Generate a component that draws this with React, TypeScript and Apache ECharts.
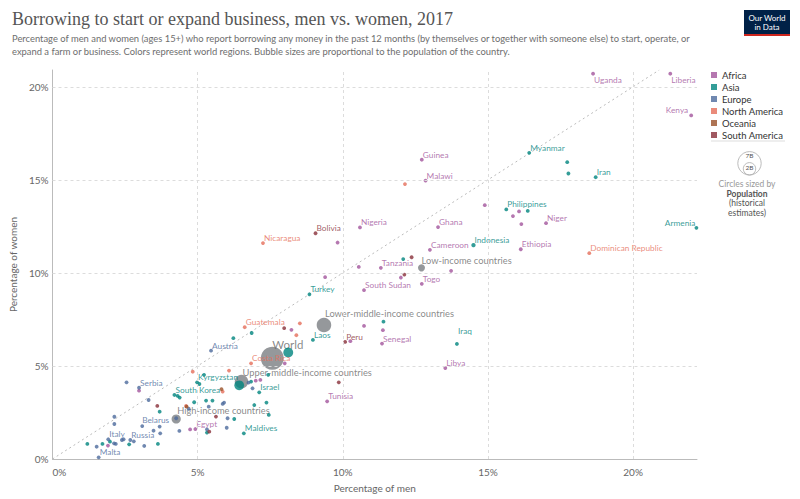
import { useEffect, useRef } from 'react';
import * as echarts from 'echarts';

// [name, % of men, % of women, population in millions]; empty name = no label
type Pt = [string, number, number, number];

const africa: Pt[] = [
  ['Uganda', 18.62, 20.7, 41],
  ['Liberia', 21.28, 20.7, 4.7],
  ['Kenya', 22.0, 18.46, 50],
  ['Guinea', 12.72, 16.08, 12],
  ['Malawi', 12.85, 14.96, 18],
  ['Nigeria', 10.59, 12.44, 190],
  ['Ghana', 13.28, 12.46, 29],
  ['Cameroon', 13.0, 11.24, 24],
  ['Tanzania', 11.31, 10.27, 56],
  ['Togo', 12.72, 9.41, 7.8],
  ['South Sudan', 10.73, 9.07, 12],
  ['Niger', 17.0, 12.67, 21],
  ['Ethiopia', 16.13, 11.27, 105],
  ['Senegal', 11.35, 6.2, 15],
  ['Libya', 13.53, 4.89, 6.4],
  ['Tunisia', 9.46, 3.1, 11.5],
  ['Egypt', 4.92, 1.61, 97],
  ['', 14.89, 13.64, 25],
  ['', 15.86, 13.05, 20],
  ['', 16.07, 13.3, 20],
  ['', 16.15, 12.62, 20],
  ['', 9.82, 11.63, 20],
  ['', 10.55, 10.32, 20],
  ['', 12.0, 9.75, 20],
  ['', 13.73, 10.11, 20],
  ['', 9.39, 9.77, 20],
  ['', 10.73, 7.15, 20],
  ['', 11.38, 6.92, 20],
  ['', 8.23, 6.94, 20],
  ['', 10.26, 6.33, 20],
  ['', 2.98, 3.67, 10],
  ['', 1.91, 0.72, 10],
  ['', 7.0, 4.21, 20],
  ['', 7.16, 4.25, 20],
  ['', 8.0, 5.14, 20],
  ['', 4.74, 1.59, 20],
];

const asia: Pt[] = [
  ['Myanmar', 16.42, 16.45, 53],
  ['Iran', 18.71, 15.14, 81],
  ['Armenia', 22.18, 12.42, 3],
  ['Philippines', 15.63, 13.41, 105],
  ['Indonesia', 14.5, 11.49, 264],
  ['Turkey', 8.85, 8.85, 81],
  ['Laos', 8.97, 6.4, 7],
  ['Iraq', 13.93, 6.18, 38],
  ['Kyrgyzstan', 4.98, 4.12, 6],
  ['', 5.06, 4.03, 10],
  ['', 8.12, 5.72, 1390],
  ['', 6.43, 3.96, 1340],
  ['South Korea', 4.2, 3.44, 51],
  ['', 4.31, 3.39, 10],
  ['', 4.38, 3.3, 10],
  ['Israel', 7.12, 3.58, 8.7],
  ['Maldives', 6.59, 1.38, 0.5],
  ['', 6.26, 2.15, 200],
  ['', 1.98, 0.93, 127],
  ['', 17.73, 15.95, 30],
  ['', 17.77, 15.34, 30],
  ['', 16.37, 13.33, 30],
  ['', 12.08, 10.74, 30],
  ['', 11.4, 7.38, 30],
  ['', 6.23, 6.49, 30],
  ['', 6.86, 6.77, 30],
  ['', 5.22, 4.52, 10],
  ['', 4.88, 3.05, 10],
  ['', 5.29, 3.14, 10],
  ['', 5.51, 3.14, 10],
  ['', 6.95, 2.9, 10],
  ['', 7.37, 3.03, 10],
  ['', 7.45, 2.37, 10],
  ['', 6.84, 4.16, 10],
  ['', 7.43, 4.52, 10],
  ['', 3.69, 2.54, 10],
  ['', 5.32, 1.42, 10],
  ['', 1.2, 0.81, 10],
  ['', 1.72, 0.81, 10],
  ['', 2.64, 0.79, 10],
  ['', 3.63, 0.81, 10],
];

const europe: Pt[] = [
  ['Austria', 5.46, 5.82, 8.8],
  ['Serbia', 2.98, 3.83, 7],
  ['Belarus', 4.26, 2.19, 9.5],
  ['Italy', 1.92, 1.06, 60],
  ['Russia', 2.68, 1.02, 145],
  ['Malta', 1.59, 0.09, 0.5],
  ['', 2.55, 4.12, 10],
  ['', 3.31, 3.17, 10],
  ['', 2.13, 2.27, 10],
  ['', 2.13, 1.88, 10],
  ['', 3.09, 1.77, 10],
  ['', 3.48, 1.52, 10],
  ['', 3.69, 1.74, 10],
  ['', 3.71, 1.38, 10],
  ['', 4.37, 1.51, 10],
  ['', 5.32, 1.59, 10],
  ['', 6.0, 1.68, 10],
  ['', 6.03, 2.19, 10],
  ['', 5.38, 2.81, 10],
  ['', 5.86, 2.96, 10],
  ['', 5.91, 3.03, 10],
  ['', 4.69, 2.7, 10],
  ['', 6.75, 4.1, 10],
  ['', 6.89, 3.8, 10],
  ['', 1.52, 0.66, 10],
  ['', 2.12, 0.84, 10],
  ['', 2.18, 0.81, 10],
  ['', 2.39, 1.02, 10],
  ['', 2.45, 1.06, 10],
  ['', 2.8, 0.95, 10],
  ['', 3.16, 0.7, 10],
];

const northAmerica: Pt[] = [
  ['Nicaragua', 7.25, 11.6, 6.4],
  ['Guatemala', 6.62, 7.08, 17],
  ['Costa Rica', 6.84, 5.14, 5],
  ['Dominican Republic', 18.49, 11.06, 10.6],
  ['', 12.14, 14.77, 10],
  ['', 8.52, 7.29, 10],
  ['', 8.4, 6.65, 10],
  ['', 4.83, 4.69, 10],
  ['', 6.08, 4.75, 10],
  ['', 5.86, 3.62, 10],
  ['', 4.6, 2.85, 10],
];

const oceania: Pt[] = [
  ['', 5.82, 3.75, 10],
  ['', 4.62, 2.81, 10],
];

const southAmerica: Pt[] = [
  ['Bolivia', 9.06, 12.13, 11],
  ['Peru', 10.08, 6.29, 32],
  ['', 7.98, 7.03, 10],
  ['', 12.12, 9.91, 10],
  ['', 12.37, 10.84, 10],
  ['', 9.86, 4.12, 10],
  ['', 5.63, 2.28, 10],
  ['', 3.61, 2.85, 10],
  ['', 5.4, 1.47, 10],
];

const incomeGroups: Pt[] = [
  ['High-income countries', 4.26, 2.15, 1200],
  ['Low-income countries', 12.71, 10.27, 700],
  ['Lower-middle-income countries', 9.35, 7.2, 3000],
  ['Upper-middle-income countries', 6.51, 4.16, 2600],
  ['World', 7.57, 5.41, 7500],
];

const regionNames = ['Africa', 'Asia', 'Europe', 'North America', 'Oceania', 'South America'];
const regionData = [africa, asia, europe, northAmerica, oceania, southAmerica];
const regionColors = ['#a2559c', '#00847e', '#4c6a9c', '#e56e5a', '#9a5129', '#883039'];
const gridTicks = [5, 10, 15, 20];
const diagonal = [[0, 0], [20.9, 20.9]];

// label placement: [align, dx, dy] from the bubble centre
const labelPlacement: Record<string, [string, number, number]> = {
  Uganda: ['left', 1, 6],
  Liberia: ['left', 1, 6],
  Kenya: ['right', -3, -5],
  Armenia: ['right', -1, -5],
  Belarus: ['right', -7, 2],
  Iraq: ['left', 1, -13],
  World: ['left', 0, -14],
  'Upper-middle-income countries': ['left', 1, -9],
  'Lower-middle-income countries': ['left', 1, -11],
  'Low-income countries': ['left', 0, -7],
  'High-income countries': ['left', 1, -8],
};

const FONT = 'Lato, "Noto Sans", sans-serif';

const bubble = (pop: number) => Math.max(3.8, 23 * Math.sqrt(pop / 7500));

const toItem = (p: Pt) => {
  const [name, x, y, pop] = p;
  const place = labelPlacement[name] || ['left', 1, -5];
  return {
    name,
    value: [x, y],
    symbolSize: bubble(pop),
    label: {
      show: name !== '',
      align: place[0],
      offset: [place[1], place[2]],
      fontSize: name === 'World' ? 11.5 : undefined,
    },
  };
};

export default function App() {
  const chartRef = useRef<HTMLDivElement>(null);

  useEffect(() => {
    document.body.style.margin = '0';
    if (!chartRef.current) return;
    const chart = echarts.init(chartRef.current, null, { renderer: 'svg' });

    const labelBase = {
      show: true,
      position: ['50%', '50%'],
      verticalAlign: 'middle',
      formatter: '{b}',
      fontFamily: FONT,
      fontSize: 8.3,
    };

    const series: any[] = [
      {
        name: 'diagonal',
        type: 'line',
        data: diagonal,
        symbol: 'none',
        silent: true,
        z: 1,
        lineStyle: { color: '#bbb', width: 1, type: [2, 3] },
        markLine: {
          silent: true,
          symbol: ['none', 'none'],
          label: { show: false },
          lineStyle: { color: '#dcdcdc', width: 1, type: [3, 3] },
          data: [
            ...gridTicks.map((v) => ({ xAxis: v })),
            ...gridTicks.map((v) => ({ yAxis: v })),
          ],
        },
      },
      {
        name: 'Income groups',
        type: 'scatter',
        z: 2,
        data: incomeGroups.map(toItem),
        itemStyle: { color: '#7b7e82' },
        label: { ...labelBase, color: '#6b6b6b', fontSize: 9.3 },
      },
      ...regionNames.map((r, i) => ({
        name: r,
        type: 'scatter',
        z: 3,
        data: regionData[i].map(toItem),
        itemStyle: { color: regionColors[i] },
        label: { ...labelBase, color: regionColors[i] },
      })),
    ];

    const sub = { fill: '#6e6e6e', fontSize: 9.4, fontFamily: FONT };
    const small = { fill: '#555', fontSize: 8.5, fontFamily: FONT, align: 'center' };

    chart.setOption({
      animation: false,
      backgroundColor: '#fff',
      grid: { left: 49, right: 103, top: 70, bottom: 40 },
      xAxis: {
        type: 'value',
        min: 0,
        max: 22.2,
        interval: 5,
        name: 'Percentage of men',
        nameLocation: 'middle',
        nameGap: 24,
        nameTextStyle: { color: '#666', fontSize: 10, fontFamily: FONT },
        axisLine: { show: true, lineStyle: { color: '#bbb' } },
        axisTick: { show: false },
        splitLine: { show: false },
        axisLabel: {
          color: '#666',
          fontSize: 10,
          fontFamily: FONT,
          margin: 8,
          alignMinLabel: 'left',
          formatter: (v: number) => (v % 5 === 0 ? v + '%' : ''),
        },
      },
      yAxis: {
        type: 'value',
        min: 0,
        max: 20.9,
        interval: 5,
        name: 'Percentage of women',
        nameLocation: 'middle',
        nameGap: 31,
        nameTextStyle: { color: '#666', fontSize: 10, fontFamily: FONT },
        axisLine: { show: true, lineStyle: { color: '#bbb' } },
        axisTick: { show: false },
        splitLine: { show: false },
        axisLabel: {
          color: '#666',
          fontSize: 10,
          fontFamily: FONT,
          margin: 4,
          formatter: (v: number) => (v % 5 === 0 ? v + '%' : ''),
        },
      },
      legend: {
        data: regionNames,
        orient: 'vertical',
        left: 711,
        top: 69,
        icon: 'rect',
        itemWidth: 6,
        itemHeight: 6,
        itemGap: 0,
        padding: 0,
        selectedMode: false,
        textStyle: { color: '#333', fontSize: 9.5, fontFamily: FONT, lineHeight: 12 },
      },
      graphic: [
        {
          type: 'text',
          left: 12,
          top: 10,
          style: {
            text: 'Borrowing to start or expand business, men vs. women, 2017',
            fill: '#555',
            fontSize: 18,
            fontFamily: '"Liberation Serif", "DejaVu Serif", serif',
          },
        },
        {
          type: 'text',
          left: 12,
          top: 34,
          style: {
            ...sub,
            text: 'Percentage of men and women (ages 15+) who report borrowing any money in the past 12 months (by themselves or together with someone else) to start, operate, or',
          },
        },
        {
          type: 'text',
          left: 12,
          top: 47,
          style: {
            ...sub,
            text: 'expand a farm or business. Colors represent world regions. Bubble sizes are proportional to the population of the country.',
          },
        },
        {
          type: 'group',
          left: 744,
          top: 10,
          children: [
            { type: 'rect', shape: { x: 0, y: 0, width: 46, height: 26 }, style: { fill: '#002147' } },
            { type: 'rect', shape: { x: 0, y: 24, width: 46, height: 2 }, style: { fill: '#ce261e' } },
            {
              type: 'text',
              x: 23,
              y: 4,
              style: { text: 'Our World', fill: '#fff', fontSize: 8, fontFamily: FONT, align: 'center' },
            },
            {
              type: 'text',
              x: 23,
              y: 13,
              style: { text: 'in Data', fill: '#fff', fontSize: 8, fontFamily: FONT, align: 'center' },
            },
          ],
        },
        { type: 'line', shape: { x1: 711, y1: 141, x2: 785, y2: 141 }, style: { stroke: '#ddd', lineWidth: 1 } },
        { type: 'circle', shape: { cx: 749.5, cy: 163.3, r: 11.7 }, style: { fill: 'none', stroke: '#aaa', lineWidth: 0.8 } },
        { type: 'circle', shape: { cx: 749.5, cy: 168.8, r: 6.2 }, style: { fill: 'none', stroke: '#aaa', lineWidth: 0.8 } },
        { type: 'text', x: 749.5, y: 152, style: { text: '7B', fill: '#555', fontSize: 6.5, fontFamily: FONT, align: 'center' } },
        { type: 'text', x: 749.5, y: 163.5, style: { text: '2B', fill: '#555', fontSize: 6.5, fontFamily: FONT, align: 'center' } },
        { type: 'text', x: 747, y: 179, style: { ...small, fill: '#999', text: 'Circles sized by' } },
        { type: 'text', x: 747, y: 189, style: { ...small, fontWeight: 'bold', text: 'Population' } },
        { type: 'text', x: 747, y: 198.5, style: { ...small, text: '(historical' } },
        { type: 'text', x: 747, y: 208, style: { ...small, text: 'estimates)' } },
      ],
      series,
    });

    return () => {
      chart.dispose();
    };
  }, []);

  return <div ref={chartRef} style={{ width: 800, height: 499 }} />;
}
